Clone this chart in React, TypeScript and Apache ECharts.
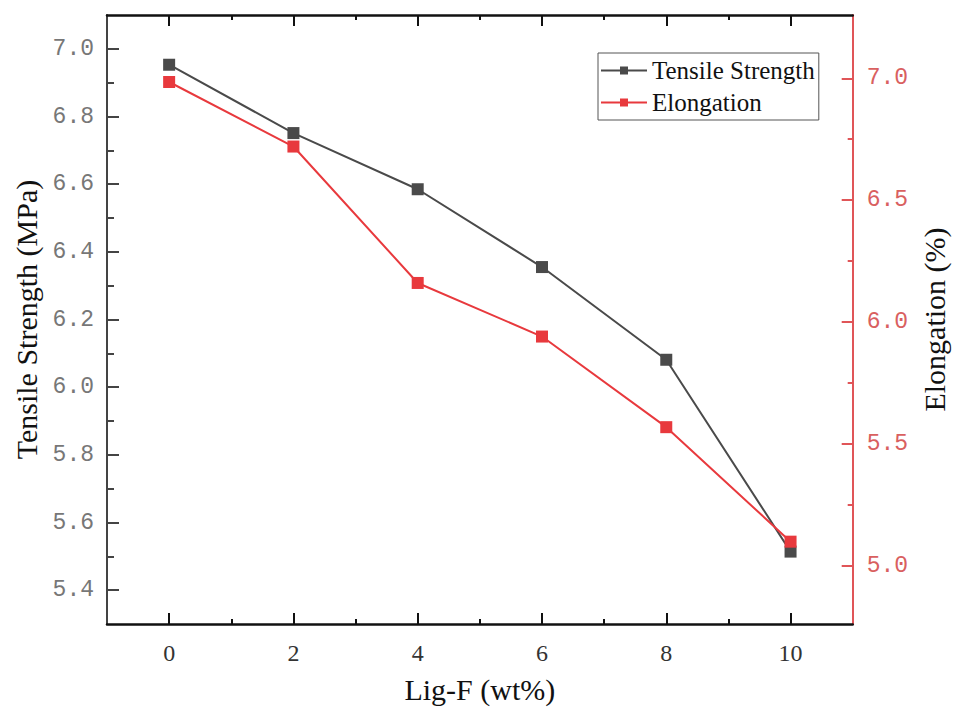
import React, { useEffect, useRef } from "react";
import * as echarts from "echarts";

const xValues = [0, 2, 4, 6, 8, 10];
const tensileStrength = [6.953, 6.751, 6.585, 6.355, 6.081, 5.514];
const elongation = [6.985, 6.72, 6.16, 5.94, 5.568, 5.098];

const xMajorTicks = [0, 2, 4, 6, 8, 10];
const xMinorTicks = [1, 3, 5, 7, 9];
const leftMajorTicks = [5.4, 5.6, 5.8, 6.0, 6.2, 6.4, 6.6, 6.8, 7.0];
const leftMinorTicks = [5.5, 5.7, 5.9, 6.1, 6.3, 6.5, 6.7, 6.9];
const rightMajorTicks = [5.0, 5.5, 6.0, 6.5, 7.0];
const rightMinorTicks = [5.25, 5.75, 6.25, 6.75];

const X_MIN = -1, X_MAX = 11;
const L_MIN = 5.3, L_MAX = 7.1;
const R_MIN = 4.76, R_MAX = 7.26;

const DARK = "#4a4a4a";
const RED = "#e8393d";
const AXIS_RED = "#e05558";
const LABEL_RED = "#d9605f";
const SERIF = "'Liberation Serif', 'Times New Roman', serif";
const TICKFONT = "'Liberation Mono', 'Courier New', monospace";

export default function App() {
  const ref = useRef<HTMLDivElement>(null);
  useEffect(() => {
    if (!ref.current) return;
    const chart = echarts.init(ref.current, undefined, { renderer: "svg" });
    const noLine = { show: false, onZero: false };
    const hiddenLabel = { show: false };
    const xAxisBase = (position: string, ticks: number[], len: number, showLine: boolean, extra: any = {}) => ({
      type: "value",
      min: X_MIN,
      max: X_MAX,
      position,
      splitLine: { show: false },
      axisLine: showLine ? { show: true, onZero: false, lineStyle: { color: "#111", width: 2.5 } } : noLine,
      axisTick: { show: true, inside: true, length: len, customValues: ticks, lineStyle: { color: "#111", width: 2 } },
      axisLabel: hiddenLabel,
      ...extra,
    });
    const option: any = {
      animation: false,
      backgroundColor: "#ffffff",
      grid: { left: 107, right: 96, top: 15, bottom: 87, containLabel: false },
      legend: {
        show: true,
        orient: "vertical",
        left: 598,
        top: 53,
        padding: [5, 4, 5, 2],
        itemGap: 7,
        itemWidth: 46,
        itemHeight: 10,
        borderColor: "#555",
        borderWidth: 1,
        textStyle: { fontFamily: SERIF, fontSize: 25, color: "#111", lineHeight: 25 },
        data: ["Tensile Strength", "Elongation"],
      },
      xAxis: [
        xAxisBase("bottom", xMajorTicks, 11, true, {
          name: "Lig-F (wt%)",
          nameLocation: "middle",
          nameGap: 50,
          nameTextStyle: { fontFamily: SERIF, fontSize: 30, color: "#111" },
          axisLabel: {
            show: true,
            customValues: xMajorTicks,
            margin: 17,
            fontFamily: SERIF,
            fontSize: 24,
            color: "#333",
            formatter: (v: number) => String(v),
          },
        }),
        xAxisBase("bottom", xMinorTicks, 5, false),
        xAxisBase("top", xMajorTicks, 11, true),
        xAxisBase("top", xMinorTicks, 5, false),
      ],
      yAxis: [
        {
          type: "value",
          min: L_MIN,
          max: L_MAX,
          position: "left",
          splitLine: { show: false },
          name: "Tensile Strength (MPa)",
          nameLocation: "middle",
          nameRotate: 90,
          nameGap: 66,
          nameTextStyle: { fontFamily: SERIF, fontSize: 30, color: "#111" },
          axisLine: { show: true, onZero: false, lineStyle: { color: "#444", width: 2 } },
          axisTick: { show: true, inside: true, length: 12, customValues: leftMajorTicks, lineStyle: { color: "#444", width: 2 } },
          axisLabel: {
            show: true,
            customValues: leftMajorTicks,
            margin: 13,
            fontFamily: TICKFONT,
            fontSize: 23,
            color: "#777",
            formatter: (v: number) => v.toFixed(1),
          },
        },
        {
          type: "value",
          min: R_MIN,
          max: R_MAX,
          position: "right",
          splitLine: { show: false },
          name: "Elongation (%)",
          nameLocation: "middle",
          nameRotate: 90,
          nameGap: 62,
          nameTextStyle: { fontFamily: SERIF, fontSize: 30, color: "#111" },
          axisLine: { show: true, onZero: false, lineStyle: { color: AXIS_RED, width: 2 } },
          axisTick: { show: true, inside: true, length: 11, customValues: rightMajorTicks, lineStyle: { color: AXIS_RED, width: 2 } },
          axisLabel: {
            show: true,
            customValues: rightMajorTicks,
            margin: 14,
            fontFamily: TICKFONT,
            fontSize: 23,
            color: LABEL_RED,
            formatter: (v: number) => v.toFixed(1),
          },
        },
        {
          type: "value",
          min: L_MIN,
          max: L_MAX,
          position: "left",
          splitLine: { show: false },
          axisLine: noLine,
          axisTick: { show: true, inside: true, length: 7, customValues: leftMinorTicks, lineStyle: { color: "#444", width: 2 } },
          axisLabel: hiddenLabel,
        },
        {
          type: "value",
          min: R_MIN,
          max: R_MAX,
          position: "right",
          splitLine: { show: false },
          axisLine: noLine,
          axisTick: { show: true, inside: true, length: 5, customValues: rightMinorTicks, lineStyle: { color: AXIS_RED, width: 2 } },
          axisLabel: hiddenLabel,
        },
      ],
      series: [
        {
          name: "Tensile Strength",
          type: "line",
          xAxisIndex: 0,
          yAxisIndex: 0,
          symbol: "rect",
          symbolSize: 12,
          itemStyle: { color: DARK },
          lineStyle: { color: DARK, width: 2 },
          data: xValues.map((x, i) => [x, tensileStrength[i]]),
          z: 2,
        },
        {
          name: "Elongation",
          type: "line",
          xAxisIndex: 0,
          yAxisIndex: 1,
          symbol: "rect",
          symbolSize: 12,
          itemStyle: { color: RED },
          lineStyle: { color: RED, width: 2 },
          data: xValues.map((x, i) => [x, elongation[i]]),
          z: 3,
        },
      ],
    };
    chart.setOption(option);
    return () => chart.dispose();
  }, []);
  return <div ref={ref} style={{ width: 957, height: 711, position: "absolute", left: 0, top: 0 }} />;
}
